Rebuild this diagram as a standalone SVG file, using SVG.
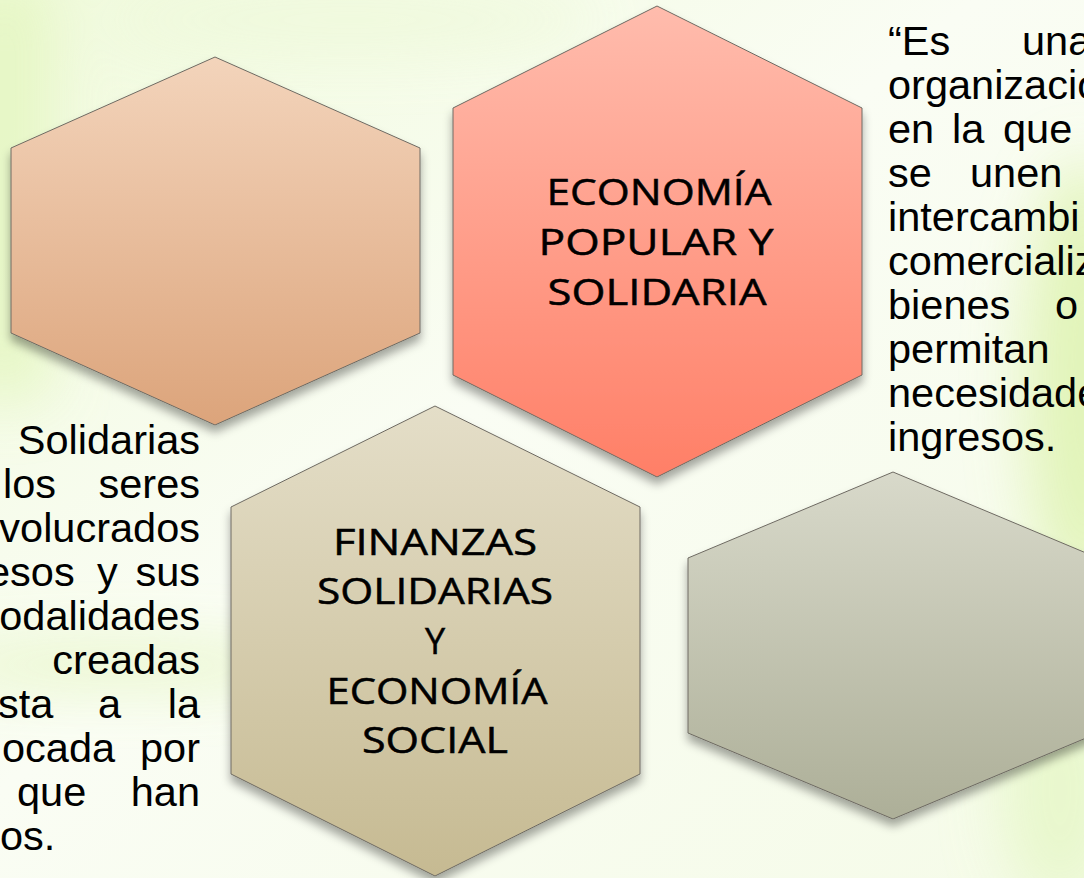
<svg xmlns="http://www.w3.org/2000/svg" width="1084" height="878" viewBox="0 0 1084 878">
  <defs>
    <linearGradient id="bg" x1="0" y1="0" x2="1" y2="1">
      <stop offset="0" stop-color="#f0fadc"/>
      <stop offset="0.45" stop-color="#fafdf4"/>
      <stop offset="1" stop-color="#f5fbe8"/>
    </linearGradient>
    <filter id="blur" x="-50%" y="-50%" width="200%" height="200%">
      <feGaussianBlur stdDeviation="30"/>
    </filter>
    <filter id="shadow" x="-20%" y="-20%" width="140%" height="140%">
      <feDropShadow dx="0" dy="7" stdDeviation="5" flood-color="#000" flood-opacity="0.35"/>
    </filter>
    <linearGradient id="g1" x1="0" y1="0" x2="0" y2="1">
      <stop offset="0" stop-color="#f3d4bb"/>
      <stop offset="1" stop-color="#dca47b"/>
    </linearGradient>
    <linearGradient id="g2" x1="0" y1="0" x2="0" y2="1">
      <stop offset="0" stop-color="#ffbcad"/>
      <stop offset="1" stop-color="#ff7f67"/>
    </linearGradient>
    <linearGradient id="g3" x1="0" y1="0" x2="0" y2="1">
      <stop offset="0" stop-color="#e4dec8"/>
      <stop offset="1" stop-color="#c6ba92"/>
    </linearGradient>
    <linearGradient id="g4" x1="0" y1="0" x2="0" y2="1">
      <stop offset="0" stop-color="#d8d9ca"/>
      <stop offset="1" stop-color="#adaf98"/>
    </linearGradient>
    <style>
      .hex { stroke: #6e6a62; stroke-width: 1; filter: url(#shadow); }
      .para { font-family: "Liberation Sans", Arial, sans-serif; font-size: 41.5px; fill: #000; }
      .lbl { font-family: "Open Sans", "Noto Sans", sans-serif; font-size: 36px; fill: #000; stroke: #000; stroke-width: 0.5; text-anchor: middle; }
    </style>
  </defs>

  <!-- background -->
  <rect width="1084" height="878" fill="url(#bg)"/>
  <g filter="url(#blur)" opacity="0.85">
    <rect x="-40" y="-20" width="90" height="420" fill="#e4f6c0"/>
    <ellipse cx="1084" cy="380" rx="60" ry="220" fill="#def3b0"/>
    <ellipse cx="120" cy="665" rx="200" ry="18" fill="#e0f4b8"/>
    <ellipse cx="1060" cy="790" rx="60" ry="120" fill="#e6f7c8"/>
    <ellipse cx="350" cy="20" rx="250" ry="30" fill="#eef9da"/>
  </g>

  <g id="node-top-left">
    <polygon class="hex" fill="url(#g1)" points="215,57 420,148 420,333 215,425 11,333 11,148"/>
  </g>

  <g id="node-economia-popular">
    <polygon class="hex" fill="url(#g2)" points="657,6 862,108 862,375 657,477 453,375 453,108"/>
    <text class="lbl" x="659" y="205" textLength="225" lengthAdjust="spacingAndGlyphs">ECONOMÍA</text>
    <text class="lbl" x="656" y="255" textLength="235" lengthAdjust="spacingAndGlyphs">POPULAR Y</text>
    <text class="lbl" x="657" y="305" textLength="219" lengthAdjust="spacingAndGlyphs">SOLIDARIA</text>
  </g>

  <g id="node-finanzas">
    <polygon class="hex" fill="url(#g3)" points="435,406 640,507 640,774 435,876 231,774 231,507"/>
    <text class="lbl" x="435" y="555" textLength="204" lengthAdjust="spacingAndGlyphs">FINANZAS</text>
    <text class="lbl" x="435" y="604" textLength="236" lengthAdjust="spacingAndGlyphs">SOLIDARIAS</text>
    <text class="lbl" x="435" y="654">Y</text>
    <text class="lbl" x="437" y="704" textLength="221" lengthAdjust="spacingAndGlyphs">ECONOMÍA</text>
    <text class="lbl" x="435" y="753" textLength="146" lengthAdjust="spacingAndGlyphs">SOCIAL</text>
  </g>

  <g id="node-bottom-right">
    <polygon class="hex" fill="url(#g4)" points="893,472 1098,558 1098,733 893,819 688,733 688,558"/>
  </g>

  <g id="connectors"/>

  <g id="text-right" class="para">
    <text x="888" y="55">“Es</text>
    <text x="1022" y="55">una</text>
    <text x="888" y="99">organizació</text>
    <text x="888" y="143">en</text>
    <text x="952" y="143">la</text>
    <text x="1003" y="143">que</text>
    <text x="888" y="187">se</text>
    <text x="970" y="187">unen</text>
    <text x="888" y="231">intercambi</text>
    <text x="888" y="275">comercializ</text>
    <text x="888" y="319">bienes</text>
    <text x="1055" y="319">o</text>
    <text x="888" y="363">permitan</text>
    <text x="888" y="407">necesidade</text>
    <text x="888" y="451">ingresos.</text>
  </g>

  <g id="text-left" class="para">
    <text x="200" y="454" text-anchor="end">Solidarias</text>
    <text x="3" y="498">los</text>
    <text x="200" y="498" text-anchor="end">seres</text>
    <text x="200" y="542" text-anchor="end">volucrados</text>
    <text x="-13" y="586">esos</text>
    <text x="97" y="586">y</text>
    <text x="200" y="586" text-anchor="end">sus</text>
    <text x="200" y="630" text-anchor="end">odalidades</text>
    <text x="200" y="674" text-anchor="end">creadas</text>
    <text x="-2" y="718">sta</text>
    <text x="98" y="718">a</text>
    <text x="200" y="718" text-anchor="end">la</text>
    <text x="2" y="762">ocada</text>
    <text x="200" y="762" text-anchor="end">por</text>
    <text x="17" y="806">que</text>
    <text x="200" y="806" text-anchor="end">han</text>
    <text x="0" y="850">os.</text>
  </g>
</svg>
